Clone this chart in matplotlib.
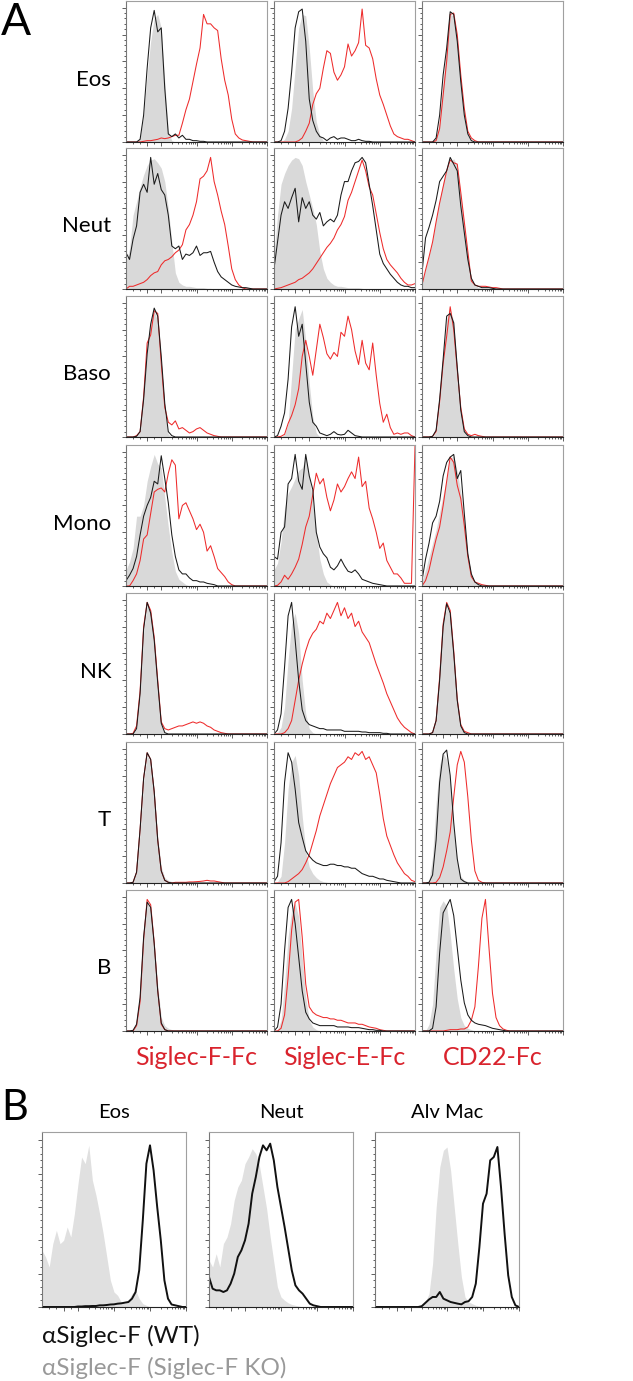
import numpy as np
import matplotlib.pyplot as plt

plt.rcParams['font.family'] = ['Lato', 'DejaVu Sans']

W, H = 633, 1381
N = 41
channel = np.arange(0, 100.1, 2.5)  # fluorescence channel (0-100 = axis width)


def pad(v):
    # values; trailing part of each trace is empty (0)
    assert len(v) <= N
    return np.array(v + [0] * (N - len(v)), dtype=float)


# ---------------- panel A: gray = control, black, red = Fc-chimera ----------------
# Eos
eos_F_gray = [0, 0, 0, 0, 3, 20, 50, 75, 92, 95, 85, 45, 8, 1]
eos_F_black = [0, 0, 0, 0, 2, 20, 55, 85, 98, 82, 85, 40, 6, 4, 6, 3, 5, 2, 2, 1, 1, 0.5, 0.5]
eos_F_red = [0, 0, 0, 0, 0, 0.5, 1, 1, 1.5, 2, 3, 2.5, 3, 4, 5, 5, 14, 24, 32, 45,
             58, 70, 95, 88, 88, 85, 83, 62, 46, 35, 17, 6, 3, 1.5, 1, 0.5]
eos_E_gray = [0, 0, 0, 2, 8, 25, 55, 85, 95, 94, 70, 38, 15, 5, 1]
eos_E_black = [0, 0, 1, 8, 25, 52, 85, 97, 99, 75, 32, 16, 8, 4, 3, 1, 3, 4, 2, 3,
               3, 2, 1, 1, 2, 1, 0.5, 0.5]
eos_E_red = [0, 0, 0, 0, 0, 0, 0, 1, 3, 8, 14, 28, 36, 40, 55, 68, 66, 52, 46, 50,
             56, 73, 64, 68, 74, 99, 72, 70, 62, 47, 35, 28, 20, 12, 6, 4, 3, 2, 2, 1, 0]
eos_C_gray = [0, 0, 0, 0, 2, 15, 45, 75, 95, 94, 75, 45, 20, 5, 1]
eos_C_black = [0, 0, 0, 0, 3, 20, 50, 70, 97, 95, 75, 45, 20, 6, 1]
eos_C_red = [0, 0, 0, 0, 1, 10, 35, 60, 95, 96, 80, 50, 25, 8, 3, 1]

# Neut
neut_F_gray = [20, 30, 55, 65, 76, 85, 92, 96, 97, 94, 90, 80, 60, 35, 12, 5, 3, 2, 2, 1.5,
               1, 1, 1, 0.5, 0.5]
neut_F_black = [27, 22, 37, 47, 72, 78, 72, 98, 78, 86, 74, 70, 55, 32, 30, 32, 22, 26, 25, 27,
                32, 25, 27, 27, 28, 20, 13, 9, 7, 5, 3, 2, 1.5, 1, 1, 0.5]
neut_F_red = [0, 2, 2, 3, 4, 5, 7, 10, 12, 13, 18, 21, 22, 24, 27, 29, 33, 44, 48, 55,
              65, 82, 84, 88, 98, 80, 70, 58, 48, 32, 15, 7, 3, 1]
neut_E_gray = [25, 55, 78, 86, 92, 96, 98, 97, 92, 80, 70, 60, 48, 28, 15, 8, 5, 3, 2, 2,
               1.5, 1, 1, 1, 1, 0.5]
neut_E_black = [15, 35, 55, 65, 60, 68, 75, 50, 68, 60, 65, 55, 52, 57, 47, 50, 52, 50, 55, 70,
                80, 80, 88, 94, 95, 98, 94, 78, 62, 44, 26, 19, 15, 11, 8, 5, 3, 2, 2, 1, 1]
neut_E_red = [0, 0.5, 1, 2, 3, 4, 5, 7, 8, 10, 12, 15, 19, 23, 27, 31, 34, 38, 44, 48,
              54, 66, 72, 80, 88, 96, 88, 76, 70, 56, 42, 30, 22, 18, 15, 12, 8, 5, 3, 3, 4]
neut_C_gray = [5, 15, 25, 37, 52, 66, 80, 88, 95, 97, 92, 70, 48, 25, 8, 3, 1, 0.5]
neut_C_black = [12, 38, 46, 55, 66, 80, 84, 88, 98, 93, 88, 62, 42, 22, 8, 3, 2, 1, 1, 1, 0.5]
neut_C_red = [3, 14, 24, 35, 50, 64, 76, 88, 96, 94, 93, 72, 50, 28, 6, 3, 2, 2, 2, 1.5,
              1, 1, 0.5]

# Baso
baso_F_gray = [0, 0, 0, 0.5, 4, 30, 68, 86, 94, 86, 52, 18, 2]
baso_F_black = [0, 0, 0, 0.5, 4, 28, 62, 84, 96, 90, 60, 25, 4, 1]
baso_F_red = [0, 0, 0, 1, 4, 30, 70, 76, 94, 92, 55, 22, 11, 9, 12, 6, 7, 5, 3, 4,
              6, 7, 5, 3, 2, 1, 0.5]
baso_E_gray = [0, 0, 0, 2, 10, 45, 80, 88, 95, 72, 40, 15, 3]
baso_E_black = [0, 1, 8, 18, 43, 82, 97, 75, 84, 55, 26, 11, 8, 3, 2, 1, 2, 4, 2, 1.5,
                2, 5, 3, 1, 0.5]
baso_E_red = [0, 0, 0.5, 2, 10, 16, 24, 36, 60, 72, 60, 46, 65, 84, 74, 62, 58, 63, 60, 78,
              75, 90, 80, 64, 54, 72, 55, 50, 70, 46, 25, 11, 17, 7, 2, 3, 2, 3, 3, 1, 0]
baso_C_gray = [0, 0, 0, 0, 4, 25, 58, 88, 95, 86, 52, 20, 5, 1]
baso_C_black = [0, 0, 0, 0.5, 5, 28, 58, 90, 92, 85, 52, 20, 4, 1]
baso_C_red = [0, 0, 0, 0.5, 4, 26, 55, 75, 97, 80, 50, 22, 6, 2, 1, 2, 1, 0.5]

# Mono
mono_F_gray = [12, 18, 28, 52, 52, 60, 78, 89, 98, 91, 88, 66, 44, 25, 11, 5, 3, 1]
mono_F_black = [4, 8, 13, 22, 38, 52, 60, 66, 78, 76, 97, 80, 62, 38, 22, 12, 9, 9, 6, 4,
                4, 3, 3, 2, 1.5, 1]
mono_F_red = [0, 0, 4, 9, 19, 35, 38, 54, 70, 72, 73, 70, 84, 94, 90, 50, 60, 62, 56, 50,
              42, 46, 40, 26, 30, 22, 13, 10, 7, 3, 1]
mono_E_gray = [12, 17, 33, 58, 69, 74, 80, 86, 88, 96, 82, 62, 40, 20, 9, 3, 1]
mono_E_black = [22, 20, 40, 44, 76, 80, 98, 78, 72, 98, 82, 72, 40, 29, 24, 21, 14, 12, 15, 20,
                15, 11, 10, 12, 9, 5, 4, 3, 2, 1.5, 1, 0.5]
mono_E_red = [0, 0.5, 3, 8, 5, 9, 14, 20, 31, 44, 52, 68, 84, 76, 80, 66, 56, 64, 76, 70,
              74, 80, 85, 80, 96, 74, 78, 58, 50, 40, 28, 32, 19, 14, 9, 9, 6, 2, 2, 2, 104]
mono_C_gray = [4, 12, 22, 32, 42, 55, 68, 80, 95, 97, 85, 70, 48, 24, 8, 3, 1]
mono_C_black = [4, 20, 32, 47, 52, 63, 82, 92, 96, 98, 80, 86, 54, 24, 9, 3, 1]
mono_C_red = [0, 4, 12, 24, 35, 44, 60, 78, 96, 92, 75, 65, 45, 22, 7, 3, 2, 1, 0.5]

# NK
nk_F_gray = [0, 0, 0, 4, 30, 76, 96, 92, 72, 38, 8, 1]
nk_F_black = [0, 0, 0, 4, 30, 78, 98, 90, 70, 38, 8, 1]
nk_F_red = [0, 0, 0.5, 6, 32, 80, 98, 92, 72, 40, 9, 4, 3, 4, 5, 6, 6, 7, 8, 9,
            8, 9, 8, 6, 5, 3, 2, 1, 0.5]
nk_E_gray = [0, 1, 5, 20, 55, 82, 90, 75, 40, 15, 4, 1]
nk_E_black = [0, 3, 15, 50, 88, 98, 70, 40, 18, 10, 7, 6, 5, 4, 4, 3, 3, 3, 3, 3,
              2, 2, 2, 2, 2, 1.5, 1.5, 1, 1, 1, 1, 0.5, 0.5]
nk_E_red = [0, 0, 0, 1, 4, 10, 25, 40, 52, 62, 70, 75, 78, 84, 82, 90, 86, 92, 98, 88,
            94, 86, 90, 80, 84, 76, 72, 68, 60, 52, 45, 38, 30, 24, 18, 12, 8, 5, 3, 1, 0]
nk_C_gray = [0, 0, 0, 1, 12, 45, 82, 94, 88, 60, 24, 6, 1]
nk_C_black = [0, 0, 0, 1, 10, 40, 80, 97, 90, 60, 25, 6, 1]
nk_C_red = [0, 0, 0, 1, 10, 42, 82, 98, 92, 62, 26, 7, 2, 1]

# T
t_F_gray = [0, 0, 1, 8, 38, 76, 95, 90, 68, 34, 12, 4, 2, 1, 0.5]
t_F_black = [0, 0, 0.5, 8, 40, 78, 97, 92, 68, 32, 9, 2, 0.5]
t_F_red = [0, 0, 0.5, 8, 40, 78, 97, 92, 68, 32, 9, 2, 0.5, 0, 0.5, 0.5, 0.5, 0.5, 0.8, 0.8,
           1, 1.2, 1.5, 2, 1.5, 1.5, 1, 0.5]
t_E_gray = [0, 1, 5, 30, 70, 90, 95, 80, 50, 24, 12, 7, 4, 2, 1, 0.5]
t_E_black = [1, 5, 30, 75, 97, 90, 70, 45, 34, 24, 20, 17, 15, 14, 13, 13, 14, 14, 13, 13,
             12, 12, 11, 11, 9, 7, 6, 5, 5, 4, 3, 3, 2, 1.5, 1, 0.5]
t_E_red = [0, 0, 0, 0, 1, 3, 5, 7, 10, 15, 21, 30, 39, 50, 58, 66, 74, 80, 86, 88,
           90, 94, 92, 97, 95, 98, 92, 94, 88, 82, 66, 48, 35, 28, 21, 15, 11, 7, 5, 2, 1]
t_C_gray = [0, 0, 2, 20, 60, 88, 97, 92, 76, 40, 16, 5, 2, 1]
t_C_black = [0, 0, 0.5, 6, 32, 75, 96, 99, 80, 45, 18, 3, 1]
t_C_red = [0, 0, 0, 0, 0.5, 4, 12, 24, 38, 64, 88, 98, 90, 64, 32, 9, 2, 0.5]

# B
b_F_gray = [0, 0, 0, 6, 28, 72, 95, 90, 66, 34, 10, 4, 2, 1]
b_F_black = [0, 0, 0.5, 5, 25, 70, 96, 92, 65, 30, 6, 1]
b_F_red = [0, 0, 0, 4, 22, 68, 98, 94, 66, 30, 5, 1]
b_E_gray = [0, 1, 8, 35, 70, 90, 95, 85, 55, 25, 8, 3, 1]
b_E_black = [0, 3, 20, 60, 92, 98, 80, 55, 30, 14, 9, 6, 5, 4, 4, 4, 4, 4, 3, 3,
             3, 3, 2.5, 2.5, 2.5, 2, 1.5, 1, 1, 0.5, 0.5]
b_E_red = [0, 0, 2, 12, 40, 75, 96, 98, 70, 35, 18, 14, 12, 11, 10, 10, 9, 9, 8, 8,
           7, 6, 6, 6, 5, 5, 4, 3, 2.5, 2, 1, 0.5]
b_C_gray = [0, 0, 5, 20, 58, 92, 97, 93, 72, 46, 24, 10, 4, 2, 1]
b_C_black = [0, 0, 0, 2, 18, 58, 88, 93, 98, 86, 62, 38, 21, 12, 8, 6, 5, 4.5, 4, 3,
             2, 1.5, 1, 0.5]
b_C_red = [0, 0, 0, 0, 0, 0, 0, 0.5, 1, 1, 1, 1.5, 1.5, 3, 8, 18, 48, 84, 98, 62,
           28, 10, 4, 1.5, 0.5]

# ---------------- panel B: gray = Siglec-F KO, black = WT ----------------
bEos_gray = [34, 30, 24, 38, 46, 38, 40, 48, 42, 56, 74, 90, 86, 97, 76, 67, 56, 44, 30, 16,
             9, 7, 3, 2, 4, 8, 10, 5, 2, 1]
bEos_black = [0, 0, 0, 0, 0, 0, 0, 0, 0, 0, 0.3, 0.3, 0.5, 0.5, 0.6, 0.6, 1, 1, 1.2, 1.5,
              1.6, 2, 2.2, 2.6, 3, 5, 9, 22, 52, 86, 97, 82, 60, 40, 16, 5, 1.5, 1, 0.5]
bNeut_gray = [28, 24, 32, 24, 38, 42, 50, 64, 72, 76, 86, 90, 95, 92, 85, 72, 59, 42, 27, 12,
              6, 4, 2.5, 1.5, 1, 0.5]
bNeut_black = [18, 11, 10, 10, 9, 10, 14, 20, 30, 34, 40, 50, 68, 78, 90, 97, 94, 98, 88, 72,
               60, 48, 35, 22, 13, 10, 8, 5, 2, 1, 0.5]
bAlv_gray = [0, 0, 0, 0, 0, 0, 0, 0, 0, 0, 0, 0, 0, 0.5, 3, 8, 26, 60, 84, 94,
             96, 82, 60, 38, 18, 6, 3, 2, 1, 0.5]
bAlv_black = [0, 0, 0, 0, 0, 0, 0, 0, 0, 0, 0, 0, 0, 0.5, 2.5, 4.5, 6, 6, 9, 5,
              4, 3, 2.5, 2, 1.6, 3, 3.5, 6, 14, 36, 62, 68, 88, 90, 96, 72, 44, 19, 6, 1, 0]

row_names = ['Eos', 'Neut', 'Baso', 'Mono', 'NK', 'T', 'B']
col_names = ['Siglec-F-Fc', 'Siglec-E-Fc', 'CD22-Fc']
b_titles = ['Eos', 'Neut', 'Alv Mac']

panel_a = [
    [(eos_F_gray, eos_F_black, eos_F_red), (eos_E_gray, eos_E_black, eos_E_red), (eos_C_gray, eos_C_black, eos_C_red)],
    [(neut_F_gray, neut_F_black, neut_F_red), (neut_E_gray, neut_E_black, neut_E_red), (neut_C_gray, neut_C_black, neut_C_red)],
    [(baso_F_gray, baso_F_black, baso_F_red), (baso_E_gray, baso_E_black, baso_E_red), (baso_C_gray, baso_C_black, baso_C_red)],
    [(mono_F_gray, mono_F_black, mono_F_red), (mono_E_gray, mono_E_black, mono_E_red), (mono_C_gray, mono_C_black, mono_C_red)],
    [(nk_F_gray, nk_F_black, nk_F_red), (nk_E_gray, nk_E_black, nk_E_red), (nk_C_gray, nk_C_black, nk_C_red)],
    [(t_F_gray, t_F_black, t_F_red), (t_E_gray, t_E_black, t_E_red), (t_C_gray, t_C_black, t_C_red)],
    [(b_F_gray, b_F_black, b_F_red), (b_E_gray, b_E_black, b_E_red), (b_C_gray, b_C_black, b_C_red)],
]
panel_b = [(bEos_gray, bEos_black), (bNeut_gray, bNeut_black), (bAlv_gray, bAlv_black)]

RED_LINE = '#ee2b2b'
RED_TEXT = '#d9232d'

# log-like (biexponential) x ticks
minor_x = [5, 10, 20] + [d + 25 * np.log10(m) for d in (25, 50, 75) for m in range(2, 10)]


def add_ax(fig, left, top, w, h):
    return fig.add_axes([left / W, 1 - (top + h) / H, w / W, h / H])


def style(ax):
    ax.set_xlim(0, 100)
    ax.set_ylim(0, 105)
    ax.set_xticks([15, 25, 50, 75, 100])
    ax.set_xticks(minor_x, minor=True)
    ax.set_yticks(range(0, 101, 20))
    ax.set_yticks(range(0, 101, 4), minor=True)
    ax.tick_params(which='both', direction='out', top=False, right=False,
                   labelbottom=False, labelleft=False, color='#444444', width=0.6)
    ax.tick_params(which='major', length=2.6)
    ax.tick_params(which='minor', length=1.3)
    for side, c in (('top', '#a0a0a0'), ('right', '#a0a0a0'), ('left', '#777777'), ('bottom', '#222222')):
        ax.spines[side].set_color(c)
        ax.spines[side].set_linewidth(0.8)


def ftext(x, y, s, **kw):
    fig.text(x / W, 1 - y / H, s, **kw)


fig = plt.figure(figsize=(W / 100, H / 100), dpi=100)

# panel A
col_left = [126, 274, 422]
row_top = [1, 148, 296, 445, 593, 742, 890]
for r in range(7):
    for c in range(3):
        gray, black, red = panel_a[r][c]
        ax = add_ax(fig, col_left[c], row_top[r], 141, 141)
        ax.fill_between(channel, pad(gray), color='#d9d9d9', lw=0)
        ax.plot(channel, pad(red), color=RED_LINE, lw=0.75)
        ax.plot(channel, pad(black), color='#1a1a1a', lw=0.75)
        style(ax)
    ftext(111, row_top[r] + 70.5 + 14, row_names[r], fontsize=16, ha='right', va='baseline')

for c in range(3):
    ftext(col_left[c] + 70.5, 1065, col_names[c], fontsize=18, color=RED_TEXT,
          ha='center', va='baseline')

ftext(1, 35, 'A', fontsize=32, ha='left', va='baseline')

# panel B
b_left = [42, 209, 375]
for i, (gray, black) in enumerate(panel_b):
    ax = add_ax(fig, b_left[i], 1132, 144, 175)
    ax.fill_between(channel, pad(gray), color='#e0e0e0', lw=0)
    ax.plot(channel, pad(black), color='#111111', lw=1.4)
    style(ax)
    ftext(b_left[i] + 72, 1118, b_titles[i], fontsize=14.5, ha='center', va='baseline')

ftext(1, 1120, 'B', fontsize=30, ha='left', va='baseline')
ftext(42, 1343, '\u03b1Siglec-F (WT)', fontsize=17.5, color='#111111', ha='left', va='baseline')
ftext(42, 1375, '\u03b1Siglec-F (Siglec-F KO)', fontsize=17.5, color='#999999', ha='left', va='baseline')

fig.savefig('out.png', dpi=100)
